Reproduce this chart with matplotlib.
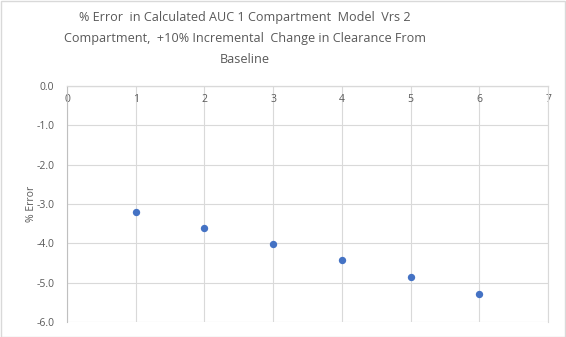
import matplotlib.pyplot as plt
from matplotlib.patches import Rectangle

# Data
steps = [1, 2, 3, 4, 5, 6]
pct_error = [-3.21, -3.60, -4.01, -4.43, -4.86, -5.30]

x_ticks = [0, 1, 2, 3, 4, 5, 6, 7]
y_ticks = [0, -1, -2, -3, -4, -5, -6]

title = ("% Error  in Calculated AUC 1 Compartment  Model  Vrs 2\n"
         "Compartment,  +10% Incremental  Change in Clearance From\n"
         "Baseline")

text_col = '#595959'
grid_col = '#D9D9D9'
plt.rcParams['font.family'] = ['Open Sans', 'DejaVu Sans']

fig = plt.figure(figsize=(5.66, 3.37), dpi=100)
ax = fig.add_axes([67 / 566, 1 - 322 / 337, (548 - 67) / 566, (322 - 86) / 337])

ax.scatter(steps, pct_error, s=28, color='#4472C4', zorder=3, linewidths=0)

ax.set_xlim(0, 7)
ax.set_ylim(-6, 0)
ax.set_xticks(x_ticks)
ax.set_yticks(y_ticks)
ax.set_yticklabels([f'{v:.1f}' for v in y_ticks])
ax.grid(True, color=grid_col, linewidth=0.8)
ax.set_axisbelow(True)

ax.spines['bottom'].set_position(('data', 0))
for s in ax.spines.values():
    s.set_color(grid_col)
    s.set_linewidth(0.8)
ax.spines['left'].set_color('#BFBFBF')
ax.spines['bottom'].set_color('#BFBFBF')

ax.tick_params(axis='both', length=0, labelsize=7.5, labelcolor=text_col)
ax.tick_params(axis='x', pad=6)
ax.tick_params(axis='y', pad=9)
ax.set_ylabel('% Error', fontsize=7.5, color=text_col, labelpad=0)

fig.text(245 / 566, 1 - 11 / 337, title, ha='center', va='top', fontsize=9.1,
         color=text_col, linespacing=1.8)

# chart border
fig.patches.append(Rectangle((0.5 / 566, 0.5 / 337), 1 - 1.5 / 566, 1 - 1.5 / 337,
                             transform=fig.transFigure, fill=False,
                             edgecolor='#D9D9D9', linewidth=1))

fig.savefig('out.png', dpi=100)
